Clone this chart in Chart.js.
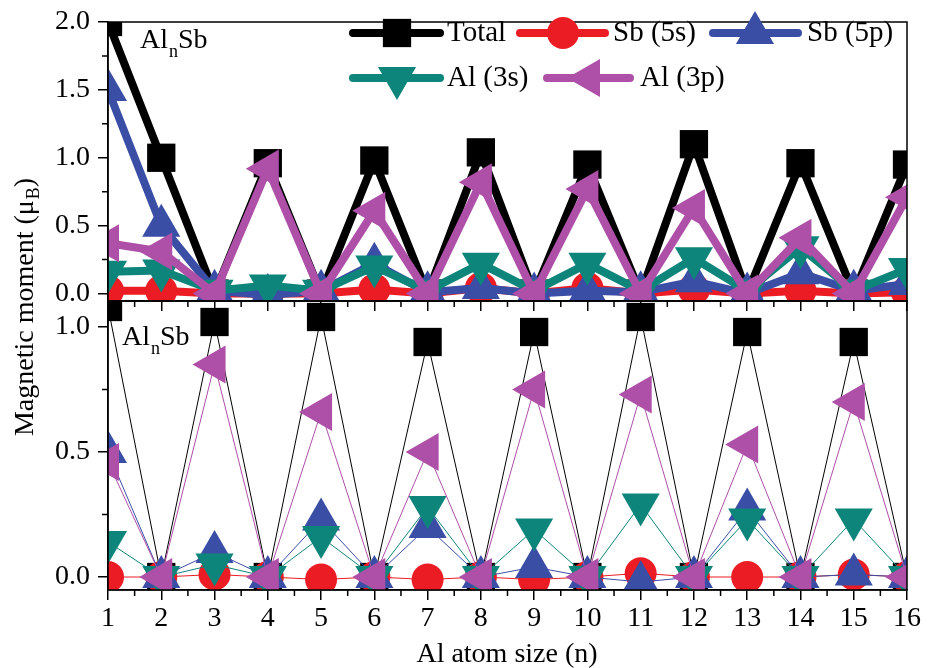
<!DOCTYPE html>
<html>
<head>
<meta charset="utf-8">
<script src="https://cdn.jsdelivr.net/npm/chart.js@4.4.1/dist/chart.umd.min.js"></script>
<style>
html, body { margin: 0; padding: 0; background: #fff; }
#wrap { position: relative; width: 929px; height: 668px; }
.layer { position: absolute; left: 0; top: 0; width: 929px; height: 668px; }
</style>
</head>
<body>
<div id="wrap">
  <div class="layer"><canvas id="topChart"></canvas></div>
  <div class="layer"><canvas id="bottomChart"></canvas></div>
</div>
<script>
// Al atom count on the x axis
const nValues = [1, 2, 3, 4, 5, 6, 7, 8, 9, 10, 11, 12, 13, 14, 15, 16];
const yTicksTop = [0, 0.5, 1.0, 1.5, 2.0];
const yTicksBottom = [0, 0.5, 1.0];
const seriesNames = ['Total', 'Sb (5s)', 'Sb (5p)', 'Al (3s)', 'Al (3p)'];

// upper panel (thick lines)
const totalTop = [2.0, 1.0, 0, 0.96, 0, 0.98, 0, 1.04, 0, 0.95, 0, 1.1, 0, 0.96, 0, 0.95];
const sb5sTop  = [0.02, 0.02, 0, 0, 0, 0.03, 0, 0.04, 0, 0.04, 0, 0.03, 0, 0.02, 0, 0.01];
const sb5pTop  = [1.5, 0.5, 0.02, -0.01, 0.02, 0.22, 0.01, 0.04, 0, 0.02, 0.01, 0.09, 0, 0.15, 0.02, 0.07];
const al3sTop  = [0.16, 0.17, 0.02, 0.06, 0.02, 0.2, 0.02, 0.22, 0.02, 0.22, 0.02, 0.26, 0.02, 0.34, 0.02, 0.18];
const al3pTop  = [0.37, 0.31, 0, 0.92, 0, 0.61, 0, 0.82, 0, 0.77, 0, 0.63, 0, 0.41, 0, 0.71];

// lower panel (thin lines)
const totalBottom = [1.08, 0, 1.02, 0, 1.04, 0, 0.94, 0, 0.98, 0, 1.04, 0, 0.98, 0, 0.94, 0];
const sb5sBottom  = [0, 0, 0.01, 0, -0.01, 0, -0.01, 0, -0.01, 0, 0.015, 0, 0, 0, 0.01, 0];
const sb5pBottom  = [0.5, 0, 0.1, 0, 0.23, 0, 0.2, 0, 0.04, 0, -0.02, 0, 0.27, 0, 0.01, 0];
const al3sBottom  = [0.14, 0, 0.05, 0, 0.16, 0, 0.28, 0, 0.19, 0, 0.29, 0, 0.23, 0, 0.23, 0];
const al3pBottom  = [0.46, 0, 0.85, 0, 0.66, 0, 0.5, 0, 0.75, 0, 0.73, 0, 0.53, 0, 0.7, 0];

const SERIF = "'Liberation Serif', serif";
const STYLES = [
    { color: '#000000', pointStyle: 'rect', rot: 0, r: 20 },
    { color: '#ec1c24', pointStyle: 'circle', rot: 0, r: 16 },
    { color: '#3a4ea6', pointStyle: 'triangle', rot: 0, r: 22 },
    { color: '#0e857a', pointStyle: 'triangle', rot: 180, r: 22 },
    { color: '#ae4fa8', pointStyle: 'triangle', rot: 270, r: 22 }
];

const makeSets = (arrays, width) => arrays.map((arr, i) => ({
    label: seriesNames[i],
    data: arr.map((v, j) => ({ x: nValues[j], y: v })),
    borderColor: STYLES[i].color, backgroundColor: STYLES[i].color,
    borderWidth: width, borderJoinStyle: 'round', borderCapStyle: 'round',
    pointStyle: STYLES[i].pointStyle, pointRotation: STYLES[i].rot,
    pointRadius: STYLES[i].r, pointHoverRadius: STYLES[i].r, pointBorderWidth: 0,
    order: 5 - i, clip: 0, tension: 0
}));

const marker = (ctx, st, x, y) => {
    ctx.save();
    ctx.fillStyle = st.color;
    ctx.beginPath();
    if (st.pointStyle === 'rect') {
        const s = Math.SQRT1_2 * st.r;
        ctx.rect(x - s, y - s, 2 * s, 2 * s);
    } else if (st.pointStyle === 'circle') {
        ctx.arc(x, y, st.r, 0, Math.PI * 2);
    } else {
        let rad = st.rot * Math.PI / 180;
        for (let k = 0; k < 3; k++) {
            const px = x + Math.sin(rad) * st.r, py = y - Math.cos(rad) * st.r;
            k ? ctx.lineTo(px, py) : ctx.moveTo(px, py);
            rad += Math.PI * 2 / 3;
        }
        ctx.closePath();
    }
    ctx.fill();
    ctx.restore();
};

// formula label like Al_nSb
const formula = (ctx, x, y) => {
    ctx.font = `28px ${SERIF}`;
    ctx.fillText('Al', x, y);
    let w = ctx.measureText('Al').width;
    ctx.font = `18px ${SERIF}`;
    ctx.fillText('n', x + w + 1, y + 9);
    w += ctx.measureText('n').width + 1;
    ctx.font = `28px ${SERIF}`;
    ctx.fillText('Sb', x + w, y);
};

const frame = {
    id: 'frame',
    afterDraw(chart) {
        const { ctx, chartArea: a, scales: { x, y } } = chart;
        ctx.save();
        ctx.strokeStyle = '#000';
        ctx.lineWidth = 1.5;
        ctx.strokeRect(a.left, a.top, a.right - a.left, a.bottom - a.top);
        // minor ticks
        ctx.beginPath();
        for (let v = 1.5; v < 16; v += 1) {
            const px = x.getPixelForValue(v);
            ctx.moveTo(px, a.bottom); ctx.lineTo(px, a.bottom + 6);
        }
        const yMax = chart.options.scales.y.max;
        for (let v = 0.25; v < yMax; v += 0.5) {
            const py = y.getPixelForValue(v);
            ctx.moveTo(a.left, py); ctx.lineTo(a.left - 6, py);
        }
        ctx.stroke();
        ctx.fillStyle = '#000';
        ctx.textBaseline = 'alphabetic';
        formula(ctx, chart.options.labelPos[0], chart.options.labelPos[1]);
        ctx.restore();
    }
};

const legendPlugin = {
    id: 'legendBox',
    afterDraw(chart) {
        const ctx = chart.ctx;
        const items = [
            { x0: 353, x1: 440, y: 33, mx: 397, tx: 447 },
            { x0: 520, x1: 605, y: 33, mx: 563, tx: 613 },
            { x0: 713, x1: 798, y: 33, mx: 755, tx: 807 },
            { x0: 353, x1: 440, y: 78, mx: 397, tx: 447 },
            { x0: 547, x1: 630, y: 78, mx: 589, tx: 640 }
        ];
        ctx.save();
        items.forEach((it, i) => {
            ctx.strokeStyle = STYLES[i].color;
            ctx.lineWidth = 8;
            ctx.lineCap = 'round';
            ctx.beginPath(); ctx.moveTo(it.x0, it.y); ctx.lineTo(it.x1, it.y); ctx.stroke();
            marker(ctx, STYLES[i], it.mx, it.y);
            ctx.fillStyle = '#000';
            ctx.font = `29px ${SERIF}`;
            ctx.textBaseline = 'alphabetic';
            ctx.fillText(seriesNames[i], it.tx, it.y + 8);
        });
        ctx.restore();
    }
};

const titles = {
    id: 'titles',
    afterDraw(chart) {
        const ctx = chart.ctx;
        ctx.save();
        ctx.fillStyle = '#000';
        ctx.textBaseline = 'alphabetic';
        ctx.font = `28px ${SERIF}`;
        ctx.textAlign = 'center';
        ctx.fillText('Al atom size (n)', 507, 662);
        // y title, rotated, with subscript B
        ctx.textAlign = 'left';
        const a = 'Magnetic moment (\u03bc', b = 'B', c = ')';
        const wa = ctx.measureText(a).width, wc = ctx.measureText(c).width;
        ctx.font = `18px ${SERIF}`;
        const wb = ctx.measureText(b).width;
        const total = wa + wb + wc + 1;
        ctx.translate(33, 307);
        ctx.rotate(-Math.PI / 2);
        let x0 = -total / 2;
        ctx.font = `28px ${SERIF}`;
        ctx.fillText(a, x0, 0);
        ctx.font = `18px ${SERIF}`;
        ctx.fillText(b, x0 + wa + 1, 6);
        ctx.font = `28px ${SERIF}`;
        ctx.fillText(c, x0 + wa + wb + 1, 0);
        ctx.restore();
    }
};

const buildOptions = cfg => ({
    responsive: true, maintainAspectRatio: false, animation: false, events: [],
    labelPos: cfg.labelPos,
    layout: { padding: { top: cfg.padTop, right: 16, left: 0, bottom: 0 } },
    plugins: { legend: { display: false }, tooltip: { enabled: false } },
    scales: {
        x: {
            type: 'linear', min: 1, max: 16,
            afterBuildTicks: s => { s.ticks = nValues.map(v => ({ value: v })); },
            afterFit: s => { s.height = cfg.xHeight; s.paddingLeft = 0; s.paddingRight = 0; },
            grid: { drawOnChartArea: false, tickLength: 10, color: '#000', lineWidth: 1.5 },
            border: { display: true, color: '#000', width: 1.5 },
            ticks: { display: cfg.xLabels, autoSkip: false, maxRotation: 0, padding: 2, color: '#000', font: { family: SERIF, size: 28 } }
        },
        y: {
            type: 'linear', min: cfg.yMin, max: cfg.yMax,
            afterBuildTicks: s => { s.ticks = cfg.yTicks.map(v => ({ value: v })); },
            afterFit: s => { s.width = 108; s.paddingTop = 0; s.paddingBottom = 0; },
            grid: { drawOnChartArea: false, tickLength: 10, color: '#000', lineWidth: 1.5 },
            border: { display: true, color: '#000', width: 1.5 },
            ticks: { padding: 8, color: '#000', font: { family: SERIF, size: 28 }, callback: v => v.toFixed(1) }
        }
    }
});

new Chart(document.getElementById('topChart'), {
    type: 'line',
    data: { datasets: makeSets([totalTop, sb5sTop, sb5pTop, al3sTop, al3pTop], 8) },
    options: buildOptions({ padTop: 12, xHeight: 367, xLabels: false, yMin: -0.055, yMax: 2.0, yTicks: yTicksTop, labelPos: [140, 48] }),
    plugins: [frame, legendPlugin]
});

new Chart(document.getElementById('bottomChart'), {
    type: 'line',
    data: { datasets: makeSets([totalBottom, sb5sBottom, sb5pBottom, al3sBottom, al3pBottom], 1) },
    options: buildOptions({ padTop: 301, xHeight: 78, xLabels: true, yMin: -0.052, yMax: 1.104, yTicks: yTicksBottom, labelPos: [122, 345] }),
    plugins: [frame, titles]
});
</script>
</body>
</html>
